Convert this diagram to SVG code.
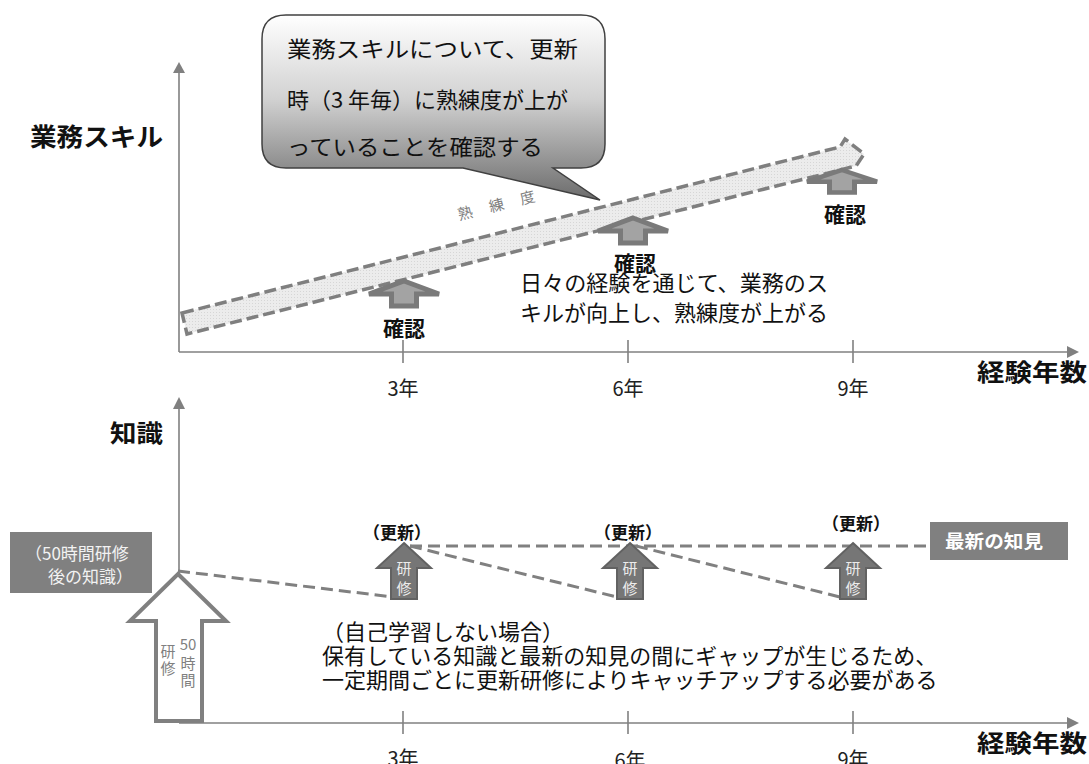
<svg xmlns="http://www.w3.org/2000/svg" width="1089" height="764" viewBox="0 0 1089 764">
<style>
text{font-family:"Noto Sans CJK JP","Noto Sans",sans-serif;}
.ax{stroke:#808080;stroke-width:1.6;fill:none;}
.ah{fill:#808080;}
.lbl{font-size:20px;fill:#222;text-anchor:middle;}
.bold{font-weight:bold;fill:#111;}
.dash{stroke:#808080;stroke-width:3;stroke-dasharray:12 6;fill:none;}
.conf{fill:#a3a3a3;stroke:#7a7a7a;stroke-width:5;stroke-miterlimit:4;}
.upd{fill:#767676;stroke:#626262;stroke-width:2;}
.updt{font-size:15px;fill:#ececec;text-anchor:middle;}
.body{font-size:22px;fill:#111;}
</style>
<defs>
<linearGradient id="cg" x1="0" y1="15" x2="0" y2="200" gradientUnits="userSpaceOnUse">
<stop offset="0" stop-color="#ffffff"/>
<stop offset="0.45" stop-color="#d2d2d2"/>
<stop offset="1" stop-color="#6c6c6c"/>
</linearGradient>
<pattern id="dots" width="3" height="3" patternUnits="userSpaceOnUse">
<rect width="3" height="3" fill="#ececec"/>
<rect width="1" height="1" fill="#d6d6d6"/>
</pattern>
<path id="confArrow" d="M0,0 L35,13 L12.5,13 L12.5,25 L-12.5,25 L-12.5,13 L-35,13 Z"/>
<path id="updArrow" d="M0,0 L27,25 L13,25 L13,56 L-13,56 L-13,25 L-27,25 Z"/>
</defs>
<rect width="1089" height="764" fill="#ffffff"/>

<g id="axes">
<line class="ax" x1="179" y1="70" x2="179" y2="352"/>
<polygon class="ah" points="179,62 173,73 185,73"/>
<line class="ax" x1="179" y1="352" x2="1068" y2="352"/>
<polygon class="ah" points="1079,352 1067,346 1067,358"/>
<line class="ax" x1="403" y1="340" x2="403" y2="363"/>
<line class="ax" x1="628" y1="340" x2="628" y2="363"/>
<line class="ax" x1="853" y1="340" x2="853" y2="363"/>
<line class="ax" x1="179" y1="408" x2="179" y2="723"/>
<polygon class="ah" points="179,397 173,409 185,409"/>
<line class="ax" x1="179" y1="723" x2="1068" y2="723"/>
<polygon class="ah" points="1079,723 1067,717 1067,729"/>
<line class="ax" x1="403" y1="711" x2="403" y2="734"/>
<line class="ax" x1="628" y1="711" x2="628" y2="734"/>
<line class="ax" x1="853" y1="711" x2="853" y2="734"/>
<text class="lbl" x="403" y="396">3年</text>
<text class="lbl" x="628" y="396">6年</text>
<text class="lbl" x="853" y="396">9年</text>
<text class="lbl" x="403" y="766">3年</text>
<text class="lbl" x="630" y="768">6年</text>
<text class="lbl" x="853" y="767">9年</text>
<text class="bold" x="977" y="381" font-size="24" textLength="110" lengthAdjust="spacingAndGlyphs">経験年数</text>
<text class="bold" x="977" y="752" font-size="24" textLength="110" lengthAdjust="spacingAndGlyphs">経験年数</text>
<text class="bold" x="30" y="146" font-size="25" textLength="133" lengthAdjust="spacingAndGlyphs">業務スキル</text>
<text class="bold" x="110" y="442" font-size="24" textLength="53" lengthAdjust="spacingAndGlyphs">知識</text>
</g>

<g id="band">
<polygon points="182,313 840,147 845,139 864,154 856,166 187,334" fill="url(#dots)" stroke="#7f7f7f" stroke-width="3.5" stroke-dasharray="12 5"/>
<text x="457" y="211" font-size="15" fill="#808080" textLength="79" lengthAdjust="spacing" transform="rotate(-14 496 206)">熟練度</text>
</g>

<g id="callout">
<path d="M286,15 H581 Q605,15 605,39 V144 Q605,168 581,168 H553 L600,200 L463,168 H286 Q262,168 262,144 V39 Q262,15 286,15 Z" fill="url(#cg)" stroke="#404040" stroke-width="1.5"/>
<text class="body" x="287" y="57" textLength="291" lengthAdjust="spacingAndGlyphs">業務スキルについて、更新</text>
<text class="body" x="287" y="108" textLength="281" lengthAdjust="spacingAndGlyphs">時（3 年毎）に熟練度が上が</text>
<text class="body" x="287" y="155" textLength="256" lengthAdjust="spacingAndGlyphs">っていることを確認する</text>
</g>

<g id="confirm1">
<use href="#confArrow" class="conf" transform="translate(404,281)"/>
<text class="bold" x="404" y="336" font-size="21" text-anchor="middle">確認</text>
</g>
<g id="confirm2">
<use href="#confArrow" class="conf" transform="translate(633,218)"/>
<text class="bold" x="635" y="271" font-size="21" text-anchor="middle">確認</text>
</g>
<g id="confirm3">
<use href="#confArrow" class="conf" transform="translate(842,170) scale(1,0.9)"/>
<text class="bold" x="845" y="222" font-size="21" text-anchor="middle">確認</text>
</g>

<g id="skill-note">
<text class="body" x="520" y="291" textLength="308" lengthAdjust="spacingAndGlyphs">日々の経験を通じて、業務のス</text>
<text class="body" x="520" y="321" textLength="308" lengthAdjust="spacingAndGlyphs">キルが向上し、熟練度が上がる</text>
</g>

<g id="connectors">
<line class="dash" x1="178" y1="571" x2="393" y2="597"/>
<line class="dash" x1="410" y1="546" x2="930" y2="546"/>
<line class="dash" x1="410" y1="546" x2="617" y2="597"/>
<line class="dash" x1="636" y1="546" x2="840" y2="597"/>
</g>

<g id="initial-box">
<rect x="10" y="532" width="142" height="61" fill="#808080"/>
<text x="25" y="560" font-size="17" fill="#f2f2f2">（50時間研修</text>
<text x="48" y="583" font-size="17" fill="#f2f2f2">後の知識）</text>
</g>

<g id="training50">
<path d="M178,574 L226,621 L202,621 L202,721 L156,721 L156,621 L130,621 Z" fill="#ffffff" stroke="#808080" stroke-width="4"/>
<text x="168" y="657" font-size="15" fill="#808080" text-anchor="middle">研</text>
<text x="168" y="674" font-size="15" fill="#808080" text-anchor="middle">修</text>
<text x="188" y="650" font-size="15" fill="#808080" text-anchor="middle">50</text>
<text x="188" y="669" font-size="15" fill="#808080" text-anchor="middle">時</text>
<text x="188" y="686" font-size="15" fill="#808080" text-anchor="middle">間</text>
</g>

<g id="update1">
<use href="#updArrow" class="upd" transform="translate(404,543)"/>
<text class="updt" x="404" y="574">研</text>
<text class="updt" x="404" y="594">修</text>
<text class="bold" x="397" y="539" font-size="17" text-anchor="middle">（更新）</text>
</g>
<g id="update2">
<use href="#updArrow" class="upd" transform="translate(630,543)"/>
<text class="updt" x="630" y="574">研</text>
<text class="updt" x="630" y="594">修</text>
<text class="bold" x="628" y="539" font-size="17" text-anchor="middle">（更新）</text>
</g>
<g id="update3">
<use href="#updArrow" class="upd" transform="translate(853,543)"/>
<text class="updt" x="853" y="574">研</text>
<text class="updt" x="853" y="594">修</text>
<text class="bold" x="856" y="530" font-size="17" text-anchor="middle">（更新）</text>
</g>

<g id="latest-box">
<rect x="930" y="522" width="138" height="38" fill="#808080"/>
<text x="945" y="548" font-size="18" font-weight="bold" fill="#ffffff" textLength="98" lengthAdjust="spacingAndGlyphs">最新の知見</text>
</g>

<g id="knowledge-note">
<text class="body" x="322" y="640">（自己学習しない場合）</text>
<text class="body" x="322" y="664">保有している知識と最新の知見の間にギャップが生じるため、</text>
<text class="body" x="322" y="688">一定期間ごとに更新研修によりキャッチアップする必要がある</text>
</g>
</svg>
